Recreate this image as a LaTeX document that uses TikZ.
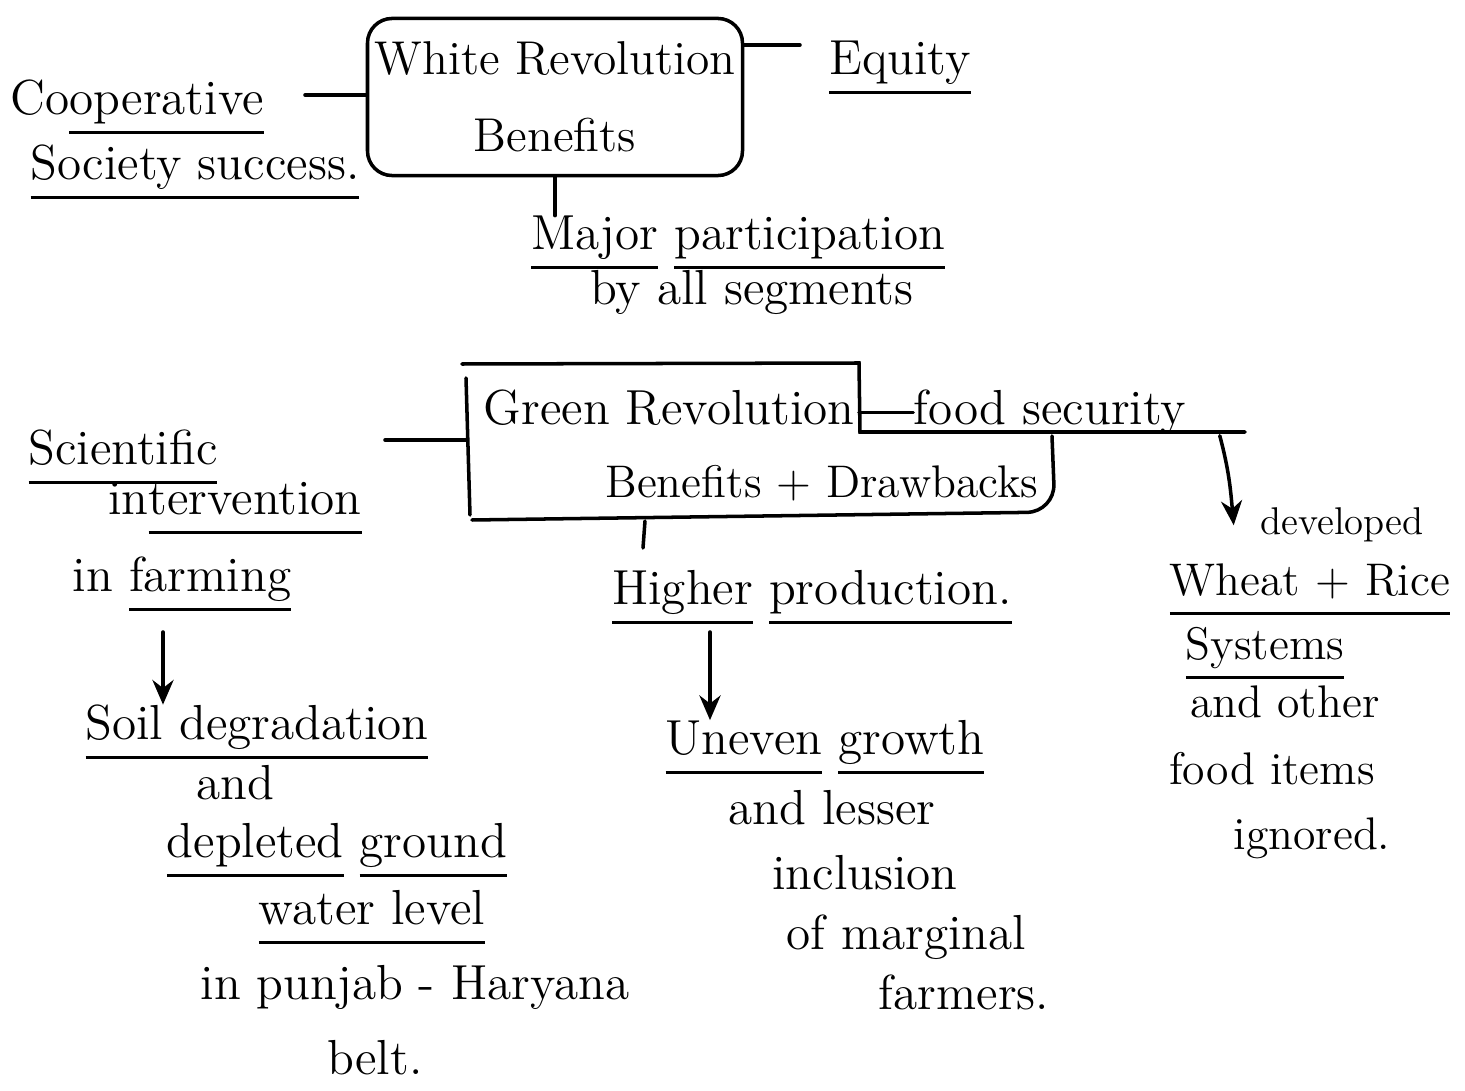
\documentclass[tikz,border=0pt]{standalone}
\usepackage{tikz}
\usetikzlibrary{arrows.meta}
\newsavebox{\ulbox}
\newcommand{\undl}[1]{\sbox{\ulbox}{#1}\rlap{\rule[-5.5pt]{\wd\ulbox}{0.9pt}}\usebox{\ulbox}}

\tikzset{
  hand/.style={font=\fontsize{14}{17}\selectfont, inner sep=0pt, anchor=base},
  handsm/.style={hand, font=\fontsize{13}{16}\selectfont},
  pen/.style={line width=1pt, line cap=round},
  arr/.style={pen, -{Stealth[length=7pt,width=6pt]}}
}

\begin{document}
\begin{tikzpicture}[x=0.01cm, y=-0.01cm]
\useasboundingbox (0,0) rectangle (1465,1091);

% White revolution box and its branches
\node[pen, draw, rounded corners=7pt, minimum width=3.65cm, minimum height=1.57cm,
      align=center, inner sep=2pt, font=\fontsize{13.5}{22}\selectfont] (wr) at (555,97)
      {White Revolution\\ Benefits};
\node[hand] (coop1) at (137,115) {Co\undl{operative}};
\node[hand] (coop2) at (195,180) {\undl{Society success.}};
\node[hand] (equity) at (900,75) {\undl{Equity}};
\node[hand] (major1) at (738,250) {\undl{Major} \undl{participation}};
\node[hand] (major2) at (752,305) {by all segments};

\coordinate (coopEnd) at (305,95);
\coordinate (eqEnd) at (800,45);
\draw[pen] (coopEnd) -- (wr.west |- coopEnd);
\draw[pen] (wr.east |- eqEnd) -- (eqEnd);
\draw[pen] (wr.south) -- (wr.south |- major1.north);

% Green revolution box
\node[hand] (green1) at (669,425) {Green Revolution};
\node[handsm] (green2) at (822,498) {Benefits + Drawbacks};
\coordinate (gbTL) at (462,364);
\coordinate (gbTR) at (859,363);
\coordinate (gbL) at (467,440);
\coordinate (gbB) at (645,521);
\draw[pen] (gbTL) -- (gbTR) -- (860,432) -- (1245,432);
\draw[pen, rounded corners=8pt] (1052,436) -- (1055,512) -- (472,520);
\draw[pen] (466,378) -- (470,515);

% left branch
\node[hand] (sci1) at (123,465) {\undl{Scientific}};
\node[hand] (sci2) at (235,515) {in\undl{tervention}};
\node[hand] (sci3) at (182,592) {in \undl{farming}};
\node[hand] (soil1) at (257,740) {\undl{Soil degradation}};
\node[hand] (soil2) at (235,800) {and};
\node[hand] (soil3) at (337,858) {\undl{depleted} \undl{ground}};
\node[hand] (soil4) at (372,925) {\undl{water level}};
\node[hand] (soil5) at (415,1000) {in punjab - Haryana};
\node[hand] (soil6) at (375,1075) {belt.};

\coordinate (sciEnd) at (385,440);
\coordinate (sciArr) at (163,632);
\draw[pen] (sciEnd) -- (gbL);
\draw[arr] (sciArr) -- (sciArr |- soil1.north);

% middle branch
\node[hand] (higher) at (812,605) {\undl{Higher} \undl{production.}};
\node[hand] (uneven1) at (825,755) {\undl{Uneven} \undl{growth}};
\node[hand] (uneven2) at (832,825) {and lesser};
\node[hand] (uneven3) at (865,890) {inclusion};
\node[hand] (uneven4) at (906,950) {of marginal};
\node[hand] (uneven5) at (964,1010) {farmers.};

\coordinate (tickEnd) at (643,548);
\coordinate (highArr) at (710,632);
\draw[pen] (gbB) -- (tickEnd);
\draw[arr] (highArr) -- (highArr |- uneven1.north);

% right branch
\node[hand] (food) at (1050,425) {food security};
\node[hand, font=\fontsize{11}{13}\selectfont] (dev1) at (1342,535) {developed};
\node[handsm] (dev2) at (1310,596) {\undl{Wheat + Rice}};
\node[handsm] (dev3) at (1265,660) {\undl{Systems}};
\node[handsm] (dev4) at (1285,718) {and other};
\node[handsm] (dev5) at (1272,785) {food items};
\node[handsm] (dev6) at (1312,850) {ignored.};

\draw[pen] (gbTR |- food.west) -- (food.west);
\draw[arr] ([xshift=3.3mm]food.south east) to[out=-75, in=95] ([xshift=-2.6mm]dev1.west);

\end{tikzpicture}
\end{document}
